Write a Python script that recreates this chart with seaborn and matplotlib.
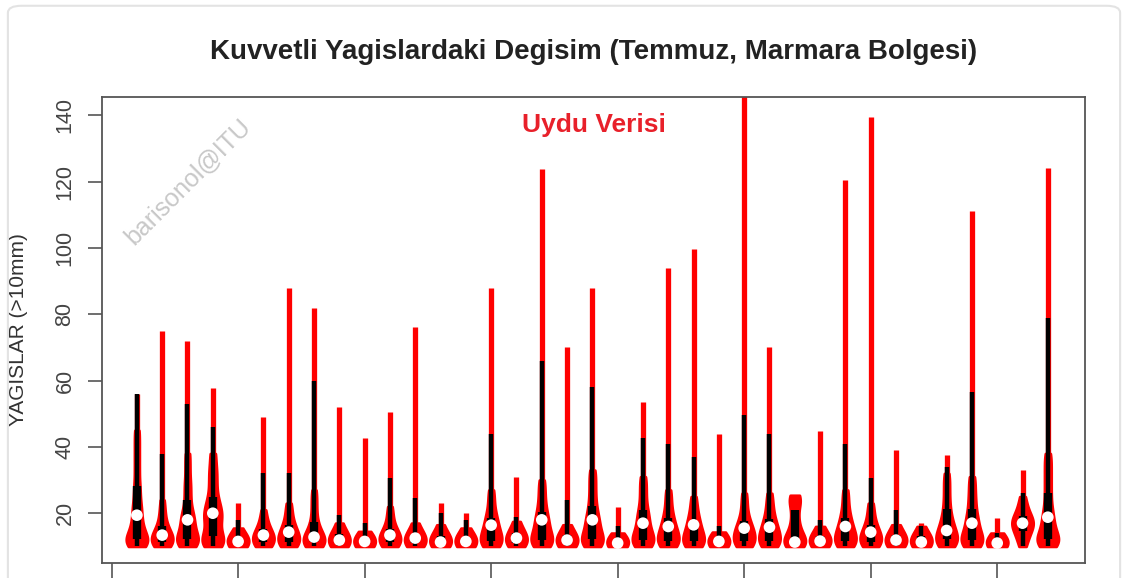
import matplotlib
matplotlib.use("Agg")
import matplotlib.pyplot as plt
import numpy as np
import pandas as pd
import seaborn as sns
from matplotlib.patches import FancyBboxPatch

# bulk of the rain amounts (>10mm) per violin, read from the shapes
samples = [
    [10, 10.5, 11, 11.5, 12, 13, 14, 15.5, 17, 19, 21, 23, 26, 29, 33, 37, 41, 45],
    [10, 10.4, 10.8, 11.2, 11.7, 12.2, 12.8, 13.4, 14.2, 15, 16.5, 18.5, 21, 24],
    [10, 10.5, 11, 11.6, 12.3, 13, 14, 15.5, 17, 18, 19.5, 21, 24, 27, 30, 34, 38],
    [10, 10.5, 11, 12, 13, 14.5, 16, 18, 19, 20, 21.5, 23, 25, 28, 31, 34, 38],
    [10, 10.2, 10.5, 10.8, 11.1, 11.5, 11.9, 12.4, 13, 14, 15.5],
    [10, 10.4, 10.8, 11.3, 11.8, 12.4, 13, 13.4, 14.2, 15.2, 16.5, 18.5, 21],
    [10, 10.4, 10.9, 11.4, 12, 12.6, 13.3, 14.3, 15.2, 16.3, 18, 20.5, 23],
    [10, 10.3, 10.7, 11.1, 11.6, 12.1, 12.8, 13.6, 14.5, 16, 18, 21, 24, 27],
    [10, 10.3, 10.6, 11, 11.4, 11.9, 12.5, 13.2, 14, 15.2, 17],
    [10, 10.2, 10.5, 10.9, 11.2, 11.5, 12, 12.6, 13.4, 14.5],
    [10, 10.4, 10.8, 11.3, 11.8, 12.4, 13, 13.4, 14.2, 15.3, 17, 19.5, 22],
    [10, 10.3, 10.7, 11.1, 11.6, 12.1, 12.5, 13.2, 14, 15.2, 17],
    [10, 10.2, 10.5, 10.8, 11.1, 11.3, 11.7, 12.2, 12.9, 13.8, 15, 16.5],
    [10, 10.2, 10.5, 10.8, 11.1, 11.5, 11.9, 12.5, 13.2, 14.2, 15.5],
    [10, 10.4, 10.9, 11.5, 12.2, 13, 14, 15, 16.4, 17.5, 19, 21, 24, 27],
    [10, 10.3, 10.7, 11.1, 11.6, 12.1, 12.5, 13.1, 13.8, 14.7, 16, 17.5],
    [10, 10.5, 11, 11.6, 12.3, 13.1, 14.2, 15.5, 17, 18, 19.5, 21.5, 24, 27, 30],
    [10, 10.3, 10.6, 11, 11.4, 11.9, 12.4, 13, 13.8, 15, 16.5],
    [10, 10.5, 11, 11.6, 12.3, 13.1, 14.2, 15.5, 17, 18, 19.5, 21.5, 24, 27, 30, 33],
    [10, 10.2, 10.4, 10.6, 10.8, 11, 11.3, 11.7, 12.2, 12.9, 14],
    [10, 10.5, 11, 11.6, 12.3, 13.1, 14.2, 15.5, 17, 18.5, 20, 22, 25, 28, 31],
    [10, 10.4, 10.9, 11.5, 12.2, 13, 14, 15, 16, 17.3, 19, 21, 24, 27],
    [10, 10.4, 10.9, 11.5, 12.2, 13, 14, 15.2, 16.5, 17.8, 19.5, 22, 25],
    [10, 10.2, 10.5, 10.9, 11.2, 11.5, 12, 12.6, 13.3, 14.3],
    [10, 10.4, 10.9, 11.5, 12.2, 13, 13.9, 14.8, 15.5, 16.5, 18, 20, 23, 26],
    [10, 10.4, 10.9, 11.5, 12.2, 13, 14, 15, 15.8, 17, 18.5, 20.5, 23, 26],
    [10, 10.2, 10.5, 10.8, 11.1, 11.3, 11.7, 12.2, 13, 14, 15, 16.5, 18, 20, 22,
     23.5, 24.5, 25, 25.4],
    [10, 10.3, 10.6, 11, 11.3, 11.6, 12.1, 12.7, 13.5, 14.6, 16],
    [10, 10.4, 10.9, 11.5, 12.2, 13, 14, 15, 16, 17.3, 19, 21, 24, 27],
    [10, 10.4, 10.9, 11.4, 12, 12.6, 13.3, 14.3, 15.2, 16.3, 18, 20.5, 23],
    [10, 10.3, 10.6, 11, 11.4, 11.9, 12.4, 13, 13.8, 15, 16.5],
    [10, 10.2, 10.4, 10.7, 11, 11.3, 11.7, 12.2, 12.8, 13.6, 14.6, 16],
    [10, 10.5, 11, 11.6, 12.3, 13, 13.8, 14.8, 15.8, 17, 18.5, 20.5, 23, 26, 29, 32],
    [10, 10.5, 11, 11.6, 12.3, 13.1, 14.2, 15.5, 17, 18.3, 20, 22.5, 25, 28, 31],
    [10, 10.1, 10.3, 10.6, 11, 11.4, 12, 12.8, 14],
    [10, 11.5, 13, 14.2, 15.2, 16, 16.6, 17, 17.4, 18, 18.8, 19.8, 21, 23, 25],
    [10, 10.5, 11, 11.6, 12.3, 13.2, 14.3, 15.6, 17.2, 18.8, 20.5, 23, 26, 29, 32,
     35, 38],
]

# white median dots, top of the black whisker and top of the red line
medians = [19.4, 13.4, 18, 20, 11.5, 13.4, 14.3, 12.8, 11.9, 11.5, 13.4, 12.5,
           11.3, 11.5, 16.4, 12.5, 18, 11.9, 18, 11, 17, 16, 16.5, 11.5,
           15.5, 15.8, 11.3, 11.6, 16, 14.3, 11.9, 11.3, 14.8, 17, 11, 17, 18.8]
whisker_top = [56, 38, 53, 46, 18, 32, 32, 60, 19.4, 17, 30.6, 24.5,
               20, 18, 44, 19, 66, 24, 58, 16, 42.6, 41, 37, 16,
               49.5, 44, 15, 18, 41, 30.6, 21, 16, 34, 56.5, 14, 26, 79]
max_vals = [56, 75, 72, 57.6, 23, 49, 88, 82, 52, 42.6, 50.5, 76,
            23, 20, 88, 31, 123.7, 70, 88, 22, 53.5, 94, 99.6, 44,
            148, 70, 25.4, 44.7, 120.4, 139.4, 39, 17, 37.5, 111, 18.5, 33, 124]

yticks = [20, 40, 60, 80, 100, 120, 140]

df = pd.DataFrame({
    "grp": np.repeat(np.arange(len(samples)), [len(s) for s in samples]),
    "val": np.concatenate(samples),
})

sns.set_style("white")
plt.rcParams["font.family"] = ["Liberation Sans", "DejaVu Sans"]


def fixed_bw(kde):
    # same absolute bandwidth (mm) for every violin
    return 2.4 / kde.dataset.std(ddof=1)


fig = plt.figure(figsize=(11.28, 5.78), dpi=100)
ax = fig.add_axes([0.0904, 0.026, 0.8715, 0.8063])

pos = np.arange(len(samples))
lo = [min(s) for s in samples]
q1 = [np.percentile(s, 25) for s in samples]
q3 = [np.percentile(s, 75) for s in samples]

# thin red tail of each violin up to the maximum
ax.vlines(pos, lo, max_vals, color="red", lw=3.8, zorder=0)

sns.violinplot(data=df, x="grp", y="val", color="red", saturation=1,
               linecolor="red", linewidth=2, inner=None, cut=0,
               density_norm="width", width=0.84, bw_method=fixed_bw,
               gridsize=400, ax=ax)

ax.vlines(pos, lo, whisker_top, color="black", lw=3.2, zorder=3)
ax.vlines(pos, q1, q3, color="black", lw=6, zorder=3)
ax.scatter(pos, medians, s=70, color="white", edgecolors="none", zorder=4)

ax.set_xlim(-1.38, 37.47)
ax.set_ylim(5, 145.5)
ax.set_xlabel("")
ax.set_xticks(np.arange(-1, 36, 5))
ax.set_xticklabels([])
ax.tick_params(axis="x", length=16, width=1.2, color="#555555", direction="out", bottom=True)
ax.set_yticks(yticks)
ax.set_yticklabels([str(v) for v in yticks], rotation=90, va="center")
ax.tick_params(axis="y", length=10, width=1.2, color="#555555", direction="out",
               left=True, pad=9, labelsize=15.5, labelcolor="#444444")
for sp in ax.spines.values():
    sp.set_color("#555555")
    sp.set_linewidth(1.3)

ax.set_ylabel("YAGISLAR (>10mm)", fontsize=15, color="#333333")
ax.yaxis.set_label_coords(-0.075, 0.5)

ax.text(0.5, 1.097, "Kuvvetli Yagislardaki Degisim (Temmuz, Marmara Bolgesi)",
        transform=ax.transAxes, ha="center", va="center", fontsize=20,
        fontweight="bold", color="#222222")
ax.text(0.5, 0.94, "Uydu Verisi", transform=ax.transAxes, ha="center", va="center",
        fontsize=19, fontweight="bold", color="#e8202a")
ax.text(0.0875, 0.8176, "barisonol@ITU", transform=ax.transAxes, ha="center",
        va="center", rotation=45, fontsize=18, color="#c8c8c8")

card = FancyBboxPatch((0.007, -0.2), 0.986, 1.19,
                      boxstyle="round,pad=0,rounding_size=0.012",
                      transform=fig.transFigure, fc="none", ec="#e3e3e3", lw=1.5)
fig.add_artist(card)

fig.savefig("out.png", dpi=100)
